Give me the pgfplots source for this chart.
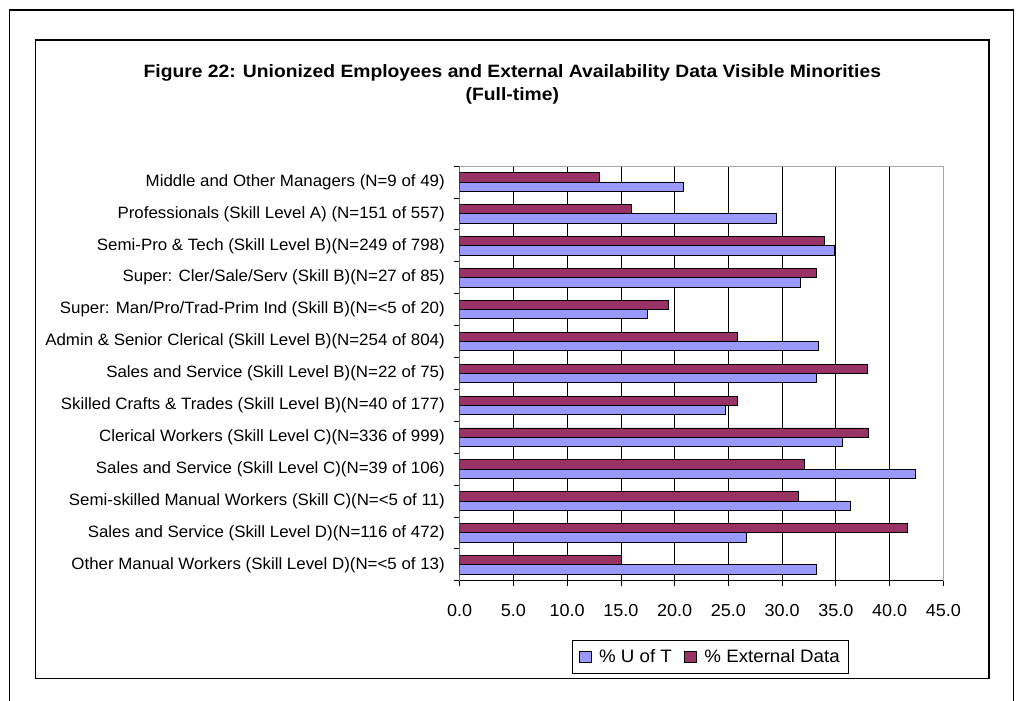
\documentclass[border=0pt]{standalone}
\usepackage{fontspec}
\setmainfont{Liberation Sans}
\newfontfamily\titlefont[FakeStretch=1.08]{Liberation Sans}
\newfontfamily\lblfont[FakeStretch=1.03]{Liberation Sans}
\newfontfamily\tickfont[FakeStretch=1.04]{Liberation Sans}
\usepackage{pgfplots}
\pgfplotsset{compat=1.18}
\definecolor{ubar}{HTML}{9999FF}
\definecolor{ebar}{HTML}{993366}
\begin{document}
\begin{tikzpicture}
\useasboundingbox (0,0) rectangle (765.75pt,-525pt);
\begin{scope}[x=0.75pt,y=-0.75pt]
\draw[line width=1pt] (9.3,712) -- (9.3,10) -- (1013.3,10) -- (1013.3,712);
\draw[line width=0.8pt] (35.7,40) rectangle (989,678.3);
\node[anchor=base, font=\titlefont\bfseries\fontsize{13.4}{15}\selectfont, inner sep=0] at (512.3,77.5) {Figure 22: Unionized Employees and External Availability Data Visible Minorities};
\node[anchor=base, font=\titlefont\bfseries\fontsize{13.4}{15}\selectfont, inner sep=0] at (512.3,100) {(Full-time)};
\end{scope}
\begin{axis}[
  at={(344.775pt,-435.525pt)}, anchor=south west,
  width=362.7pt, height=311.0pt, scale only axis,
  xbar, bar width=0.29,
  xmin=0, xmax=45, ymin=-0.5, ymax=12.5,
  xtick={0,5,...,45},
  xticklabel style={/pgf/number format/.cd, fixed, fixed zerofill, precision=1, /pgf/number format/assume math mode=true, /tikz/.cd, font=\tickfont\fontsize{13}{15}\selectfont, yshift=-10pt},
  ytick={-0.5,0.5,...,12.5},
  yticklabels={},
  extra y ticks={0,...,12},
  extra y tick labels={Other Manual Workers (Skill Level D)(N=<5 of 13),
    Sales and Service (Skill Level D)(N=116 of 472),
    Semi-skilled Manual Workers (Skill C)(N=<5 of 11),
    Sales and Service (Skill Level C)(N=39 of 106),
    Clerical Workers (Skill Level C)(N=336 of 999),
    Skilled Crafts \& Trades (Skill Level B)(N=40 of 177),
    Sales and Service (Skill Level B)(N=22 of 75),
    Admin \& Senior Clerical (Skill Level B)(N=254 of 804),
    Super: Man/Pro/Trad-Prim Ind (Skill B)(N=<5 of 20),
    Super: Cler/Sale/Serv (Skill B)(N=27 of 85),
    Semi-Pro \& Tech (Skill Level B)(N=249 of 798),
    Professionals (Skill Level A) (N=151 of 557),
    Middle and Other Managers (N=9 of 49)},
  extra y tick style={major tick length=0pt, tick style={draw=none},
    yticklabel style={font=\lblfont\fontsize{12.3}{14}\selectfont, anchor=east, inner sep=0pt, xshift=-11pt}},
  ytick style={black, line width=0.6pt},
  major tick length=4pt,
  xtick style={black, line width=0.6pt},
  tick align=outside,
  xtick pos=bottom, ytick pos=left,
  xmajorgrids, grid style={black, line width=0.6pt},
  axis line style={gray!70, line width=0.6pt},
  legend style={at={(0.5186,-0.1833)}, anchor=center, draw=black, line width=0.6pt,
    font=\tickfont\fontsize{13.5}{15}\selectfont, legend columns=2,
    inner xsep=4.5pt, inner ysep=4.5pt,
    /tikz/every odd column/.append style={column sep=3.5pt},
    /tikz/every even column/.append style={column sep=7pt}},
  legend image code/.code={\draw[#1,draw=black,line width=0.6pt] (0pt,-4.3pt) rectangle (9.3pt,4.3pt);},
]
\addplot[fill=ubar, draw=black, line width=0.6pt, bar shift=-0.145] coordinates {
  (33.2,0) (26.7,1) (36.4,2) (42.4,3) (35.6,4) (24.7,5) (33.2,6)
  (33.4,7) (17.5,8) (31.7,9) (34.9,10) (29.5,11) (20.8,12)};
\addplot[fill=ebar, draw=black, line width=0.6pt, bar shift=0.145] coordinates {
  (15.0,0) (41.7,1) (31.5,2) (32.1,3) (38.0,4) (25.8,5) (37.9,6)
  (25.8,7) (19.4,8) (33.2,9) (33.9,10) (16.0,11) (13.0,12)};
\legend{\% U of T, \% External Data}
\draw[black, line width=0.8pt] (rel axis cs:0,1) -- (rel axis cs:0,0) -- (rel axis cs:1,0);
\end{axis}
\end{tikzpicture}
\end{document}
